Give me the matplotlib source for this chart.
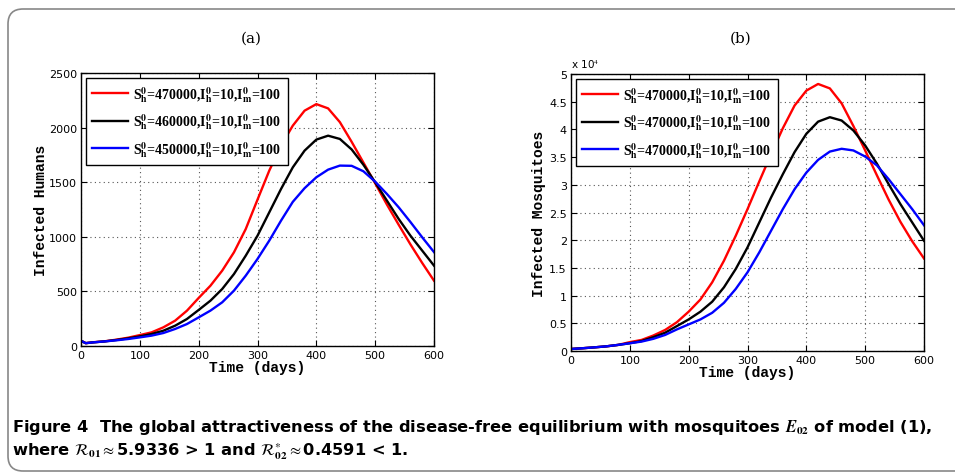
import matplotlib.pyplot as plt
from matplotlib.patches import FancyBboxPatch

plt.rcParams['mathtext.fontset'] = 'stix'

# -----------------------------
# Data
# -----------------------------
days = [0, 8, 20, 40, 60, 80, 100, 120, 140, 160, 180, 200, 220, 240, 260, 280,
        300, 320, 340, 360, 380, 400, 420, 440, 460, 480, 500, 520, 540, 560, 580, 600]

# infected humans (a)
hum_470 = [48, 26, 34, 43, 58, 76, 100, 125, 171, 232, 323, 440, 552, 690, 858, 1071,
           1340, 1606, 1835, 2018, 2155, 2215, 2176, 2050, 1870, 1680, 1490, 1295, 1110, 930, 760, 598]
hum_460 = [48, 26, 33, 42, 55, 70, 88, 110, 140, 186, 247, 330, 415, 522, 659, 827,
           1010, 1224, 1438, 1636, 1789, 1890, 1926, 1896, 1800, 1660, 1499, 1331, 1163, 1010, 873, 736]
hum_450 = [48, 26, 33, 42, 52, 64, 79, 95, 119, 156, 201, 262, 324, 400, 507, 644,
           797, 965, 1148, 1320, 1445, 1545, 1615, 1652, 1650, 1600, 1505, 1392, 1270, 1135, 995, 860]

# infected mosquitoes (b)
mos_red = [360, 420, 500, 660, 840, 1100, 1600, 2000, 2800, 3800, 5200, 7100, 9300, 12400, 16300, 20800,
           25600, 30600, 35500, 40200, 44300, 47000, 48200, 47400, 44700, 40600, 36200, 31700, 27300, 23300, 19800, 16700]
mos_black = [360, 420, 500, 660, 840, 1100, 1400, 1800, 2500, 3300, 4500, 5700, 7100, 8900, 11500, 14800,
             18700, 23200, 27700, 31900, 35900, 39200, 41400, 42200, 41600, 39800, 37100, 33800, 30100, 26500, 23200, 19900]
mos_blue = [360, 420, 500, 660, 840, 1100, 1400, 1700, 2200, 2900, 3900, 4800, 5700, 6900, 8700, 11200,
            14200, 17800, 21700, 25600, 29200, 32200, 34500, 36000, 36500, 36200, 35100, 33500, 31000, 28300, 25600, 22700]

def leg_label(s0):
    return (r'S$^{\mathbf{0}}_{\mathbf{h}}$=' + s0 +
            r',I$^{\mathbf{0}}_{\mathbf{h}}$=10,I$^{\mathbf{0}}_{\mathbf{m}}$=100')

labels_a = [leg_label('470000'), leg_label('460000'), leg_label('450000')]
labels_b = [leg_label('470000')] * 3

colors = ['#ff0000', '#000000', '#0000ff']

# -----------------------------
# Figure
# -----------------------------
fig = plt.figure(figsize=(9.55, 4.77), dpi=100)
W, H = 955, 477

def ax_rect(x0, y0, x1, y1):
    return [x0 / W, 1 - y1 / H, (x1 - x0) / W, (y1 - y0) / H]

ax1 = fig.add_axes(ax_rect(81, 74, 434, 347))
ax2 = fig.add_axes(ax_rect(571, 75, 924, 352))

def style(ax):
    ax.set_xlim(0, 600)
    ax.set_xticks(range(0, 601, 100))
    ax.tick_params(direction='in', top=True, right=True, labelsize=8,
                   length=4, width=0.8, pad=3)
    ax.grid(True, linestyle=(0, (1, 3)), color='#555555', linewidth=0.8)
    for s in ax.spines.values():
        s.set_linewidth(1.0)
    ax.set_xlabel('Time (days)', family='Liberation Mono', fontweight='bold',
                  fontsize=10.5, labelpad=0)

for ys, c, lab in zip([hum_470, hum_460, hum_450], colors, labels_a):
    ax1.plot(days, ys, color=c, lw=1.7, label=lab)
style(ax1)
ax1.set_ylim(0, 2500)
ax1.set_yticks(range(0, 2501, 500))
ax1.set_ylabel('Infected Humans', family='Liberation Mono', fontweight='bold',
               fontsize=10.5)
ax1.yaxis.set_label_coords(-0.093, 0.5)

for ys, c, lab in zip([mos_red, mos_black, mos_blue], colors, labels_b):
    ax2.plot(days, [v / 1e4 for v in ys], color=c, lw=1.7, label=lab)
style(ax2)
ax2.set_ylim(0, 5)
ax2.set_yticks([0, 0.5, 1, 1.5, 2, 2.5, 3, 3.5, 4, 4.5, 5])
ax2.set_yticklabels(['0', '0.5', '1', '1.5', '2', '2.5', '3', '3.5', '4', '4.5', '5'])
ax2.set_ylabel('Infected Mosquitoes', family='Liberation Mono', fontweight='bold',
               fontsize=10.5)
ax2.yaxis.set_label_coords(-0.072, 0.5)
ax2.text(0.0, 1.015, r'x 10$^4$', transform=ax2.transAxes, fontsize=7.5,
         ha='left', va='bottom')

fig.text(251 / W, 1 - 39 / H, '(a)', family='DejaVu Serif', fontsize=11,
         ha='center', va='center')
fig.text(741 / W, 1 - 39 / H, '(b)', family='DejaVu Serif', fontsize=11,
         ha='center', va='center')

for ax in (ax1, ax2):
    leg = ax.legend(loc='upper left', prop={'family': 'Liberation Serif',
                                            'weight': 'bold', 'size': 10},
                    handlelength=2.6, fancybox=False, framealpha=1,
                    edgecolor='black', borderaxespad=0.35, labelspacing=0.55,
                    borderpad=0.45, handletextpad=0.35)
    leg.get_frame().set_linewidth(1.0)

# caption
fig.text(12 / W, 1 - 428 / H,
         r'Figure 4  The global attractiveness of the disease-free equilibrium with mosquitoes $\boldsymbol{E}_{\mathbf{02}}$ of model (1),',
         fontsize=11.7, fontweight='bold', family='DejaVu Sans', va='center')
fig.text(12 / W, 1 - 452 / H,
         r'where $\mathcal{R}_{\mathbf{01}}$$\approx$5.9336 > 1 and $\mathcal{R}^{*}_{\mathbf{02}}$$\approx$0.4591 < 1.',
         fontsize=11.7, fontweight='bold', family='DejaVu Sans', va='center')

# rounded frame round the whole figure (pixel coords), right side off the picture
box = FancyBboxPatch((8, H - 472), 1100, 462,
                     boxstyle='round,pad=0,rounding_size=15',
                     transform=None, fill=False,
                     edgecolor='#888888', linewidth=1.2, clip_on=False)
fig.patches.append(box)

fig.savefig('out.png', dpi=100)
